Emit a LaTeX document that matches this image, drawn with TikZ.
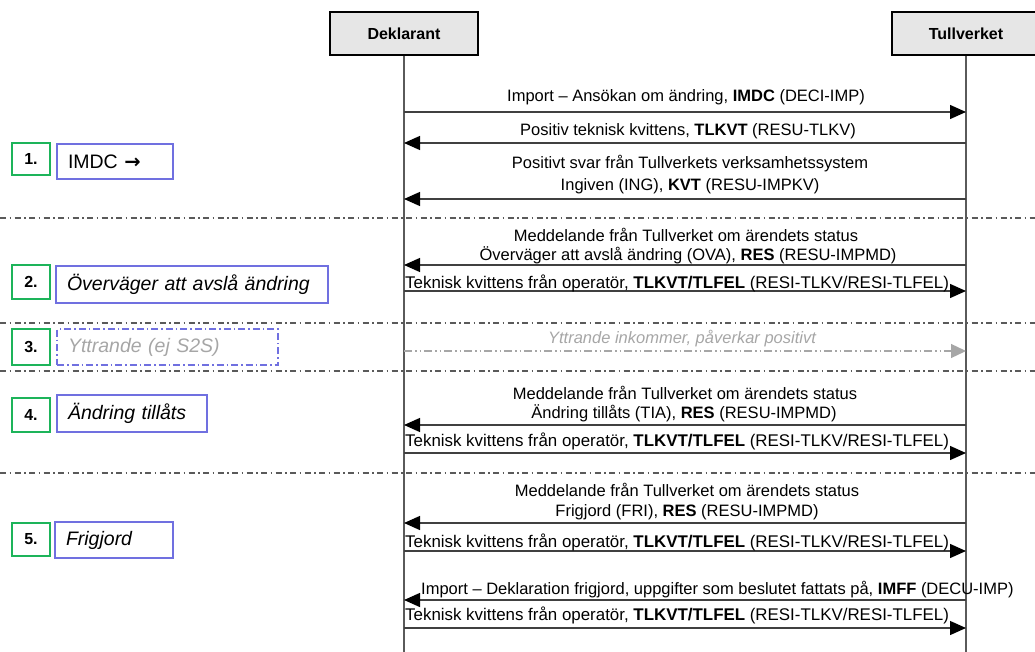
\documentclass[tikz,border=0pt]{standalone}
\usepackage{fontspec}
\setmainfont{Liberation Sans}
\newfontfamily\symfont{DejaVu Sans}
\usetikzlibrary{arrows.meta}
\definecolor{lineg}{HTML}{404040}
\definecolor{lifeg}{HTML}{5A5A5A}
\definecolor{headfill}{HTML}{E6E6E6}
\definecolor{grn}{HTML}{1DB45A}
\definecolor{blu}{HTML}{7070E0}
\definecolor{lightg}{HTML}{A6A6A6}
\tikzset{
  head/.style={draw=black, line width=2pt, fill=headfill, minimum width=148pt, minimum height=43pt, inner sep=0pt, font=\fontsize{16}{19}\selectfont\bfseries},
  life/.style={draw=lifeg, line width=1.5pt},
  msgR/.style={draw=lineg, line width=1.3pt, -{Triangle[length=16pt,width=14pt,color=black,fill=black]}},
  msgL/.style={draw=lineg, line width=1.3pt, -{Triangle[length=16pt,width=14pt,color=black,fill=black]}},
  msgG/.style={draw=lightg, line width=1.2pt, dash pattern=on 8pt off 3pt on 1.5pt off 3pt on 1.5pt off 3pt, -{Triangle[length=15pt,width=14pt,color=lightg,fill=lightg]}},
  sep/.style={draw=lifeg, line width=1.2pt, dash pattern=on 6pt off 3.5pt on 1.5pt off 3.5pt},
  txt/.style={anchor=base, inner sep=0pt},
  txtl/.style={anchor=base west, inner sep=0pt},
  tk/.style={anchor=base west, inner sep=0pt, font=\fontsize{16.9}{19}\selectfont},
  num/.style={draw=grn, line width=2pt, minimum width=38pt, inner sep=0pt, font=\fontsize{16}{19}\selectfont\bfseries},
  lbl/.style={draw=blu, line width=1.3pt, inner xsep=11pt, inner ysep=0pt, align=left, font=\fontsize{19.5}{23}\selectfont},
}
\begin{document}
\begin{tikzpicture}[x=1pt,y=-1pt, font=\fontsize{16.5}{19}\selectfont]
\useasboundingbox (0,0) rectangle (1035,652);
\clip (0,0) rectangle (1035,652);
% heads
\node[head] (D) at (404,33.5) {Deklarant};
\node[head] (T) at (966,33.5) {Tullverket};
\coordinate (Dend) at (D |- 0,652);
\coordinate (Tend) at (T |- 0,652);
\draw[life] (D.south) -- (Dend);
\draw[life] (T.south) -- (Tend);
% separators
\foreach \i/\y in {1/218,2/323,3/371,4/473} {
  \coordinate (sl\i) at (0,\y);
  \coordinate (sr\i) at (1035,\y);
}
\draw[sep] (sl1) -- (sr1);
\draw[sep] (sl2) -- (sr2);
\draw[sep] (sl3) -- (sr3);
\draw[sep] (sl4) -- (sr4);
% message end points
\foreach \i/\y in {1/112,2/143,3/199,4/265,5/291,6/351,7/425,8/453,9/523,10/551,11/600,12/628} {
  \coordinate (D\i) at (D |- 0,\y);
  \coordinate (T\i) at (T |- 0,\y);
}
\draw[msgR] (D1) -- (T1);
\draw[msgL] (T2) -- (D2);
\draw[msgL] (T3) -- (D3);
\draw[msgL] (T4) -- (D4);
\draw[msgR] (D5) -- (T5);
\draw[msgG] (D6) -- (T6);
\draw[msgL] (T7) -- (D7);
\draw[msgR] (D8) -- (T8);
\draw[msgL] (T9) -- (D9);
\draw[msgR] (D10) -- (T10);
\draw[msgL] (T11) -- (D11);
\draw[msgR] (D12) -- (T12);
% message texts
\node[txt] (t1) at (686,102) {Import – Ansökan om ändring, \textbf{IMDC} (DECI-IMP)};
\node[txt] (t2) at (688,136) {Positiv teknisk kvittens, \textbf{TLKVT} (RESU-TLKV)};
\node[txt] (t3a) at (690,169) {Positivt svar från Tullverkets verksamhetssystem};
\node[txt] (t3b) at (690,191) {Ingiven (ING), \textbf{KVT} (RESU-IMPKV)};
\node[txt] (t4a) at (686,242) {Meddelande från Tullverket om ärendets status};
\node[txt] (t4b) at (688,261) {Överväger att avslå ändring (OVA), \textbf{RES} (RESU-IMPMD)};
\node[tk] (t5) at (405,288) {Teknisk kvittens från operatör, \textbf{TLKVT/TLFEL} (RESI-TLKV/RESI-TLFEL)};
\node[txt, text=lightg, font=\fontsize{16.5}{19}\selectfont\itshape] (t6) at (682,343) {Yttrande inkommer, påverkar positivt};
\node[txt] (t7a) at (685,399) {Meddelande från Tullverket om ärendets status};
\node[txt] (t7b) at (684,418) {Ändring tillåts (TIA), \textbf{RES} (RESU-IMPMD)};
\node[tk] (t8) at (405,446) {Teknisk kvittens från operatör, \textbf{TLKVT/TLFEL} (RESI-TLKV/RESI-TLFEL)};
\node[txt] (t9a) at (687,496) {Meddelande från Tullverket om ärendets status};
\node[txt] (t9b) at (687,516) {Frigjord (FRI), \textbf{RES} (RESU-IMPMD)};
\node[tk] (t10) at (405,547) {Teknisk kvittens från operatör, \textbf{TLKVT/TLFEL} (RESI-TLKV/RESI-TLFEL)};
\node[txtl] (t11) at (421,594) {Import – Deklaration frigjord, uppgifter som beslutet fattats på, \textbf{IMFF} (DECU-IMP)};
\node[tk] (t12) at (405,620) {Teknisk kvittens från operatör, \textbf{TLKVT/TLFEL} (RESI-TLKV/RESI-TLFEL)};
% left labels
\node[num, minimum height=32pt] (n1) at (31,159) {1.};
\node[lbl, minimum height=35pt, text width=94pt] (b1) at (115,161.5) {IMDC {\symfont\bfseries →}};
\node[num, minimum height=34pt] (n2) at (31,282) {2.};
\node[lbl, minimum height=37pt, text width=250pt, font=\fontsize{19.5}{23}\selectfont\itshape] (b2) at (192,284.5) {Överväger att avslå ändring};
\node[num, minimum height=36pt] (n3) at (31,347) {3.};
\node[lbl, minimum height=36pt, text width=199pt, dash pattern=on 7pt off 3pt on 1.5pt off 3pt, text=lightg, font=\fontsize{19.5}{23}\selectfont\itshape] (b3) at (167.5,347) {Yttrande (ej S2S)};
\node[num, minimum height=34pt] (n4) at (31,415) {4.};
\node[lbl, minimum height=37pt, text width=128pt, font=\fontsize{19.5}{23}\selectfont\itshape] (b4) at (132,413.5) {Ändring tillåts};
\node[num, minimum height=33pt] (n5) at (31,539.5) {5.};
\node[lbl, minimum height=36pt, text width=96pt, font=\fontsize{19.5}{23}\selectfont\itshape] (b5) at (114,540) {Frigjord};
\end{tikzpicture}
\end{document}
